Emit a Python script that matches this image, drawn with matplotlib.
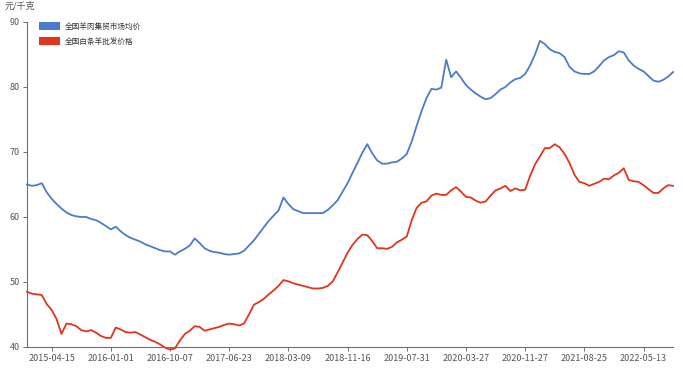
import matplotlib.pyplot as plt
from matplotlib.patches import Patch

plt.rcParams['font.family'] = ['Noto Sans CJK SC', 'DejaVu Sans']

# 周度价格 (元/千克)
mutton_retail = [
    65.0, 64.8, 64.9, 65.2, 63.8, 62.8, 62.0, 61.3, 60.7, 60.3,
    60.1, 60.0, 60.0, 59.7, 59.5, 59.1, 58.6, 58.1, 58.5, 57.8,
    57.2, 56.8, 56.5, 56.2, 55.8, 55.5, 55.2, 54.9, 54.7, 54.7,
    54.2, 54.7, 55.1, 55.6, 56.7, 56.0, 55.2, 54.8, 54.6, 54.5,
    54.3, 54.2, 54.3, 54.4, 54.8, 55.6, 56.4, 57.4, 58.4, 59.4,
    60.2, 61.0, 63.0, 62.0, 61.2, 60.9, 60.6, 60.6, 60.6, 60.6,
    60.6, 61.1, 61.8, 62.6, 63.9, 65.2, 66.8, 68.3, 69.9, 71.2,
    69.8, 68.7, 68.2, 68.2, 68.4, 68.5, 69.0, 69.7, 71.6, 74.0,
    76.3, 78.3, 79.7, 79.6, 79.9, 84.2, 81.5, 82.4, 81.4, 80.3,
    79.6, 79.0, 78.5, 78.1, 78.3, 78.9, 79.6, 80.0, 80.7, 81.2,
    81.4, 82.0, 83.3, 85.0, 87.1, 86.6, 85.8, 85.4, 85.2, 84.6,
    83.1, 82.4, 82.1, 82.0, 82.0, 82.4, 83.2, 84.1, 84.6, 84.9,
    85.5, 85.3, 84.1, 83.3, 82.8, 82.4, 81.7, 81.0, 80.8, 81.1,
    81.6, 82.3,
]
sheep_wholesale = [
    48.5, 48.2, 48.1, 48.0, 46.6, 45.7, 44.3, 42.0, 43.6, 43.5,
    43.2, 42.6, 42.4, 42.6, 42.2, 41.7, 41.4, 41.4, 43.0, 42.7,
    42.3, 42.2, 42.3, 41.9, 41.5, 41.1, 40.8, 40.4, 39.9, 39.6,
    39.8, 41.0, 42.0, 42.5, 43.2, 43.1, 42.5, 42.7, 42.9, 43.1,
    43.4, 43.6, 43.5, 43.3, 43.6, 45.0, 46.5, 46.9, 47.4, 48.1,
    48.7, 49.4, 50.3, 50.1, 49.8, 49.6, 49.4, 49.2, 49.0, 49.0,
    49.1, 49.4, 50.1, 51.5, 53.0, 54.5, 55.7, 56.6, 57.3, 57.2,
    56.3, 55.2, 55.2, 55.1, 55.4, 56.1, 56.5, 57.0, 59.5, 61.4,
    62.2, 62.4, 63.3, 63.6, 63.4, 63.4, 64.1, 64.6, 63.9, 63.1,
    63.0, 62.5, 62.2, 62.4, 63.3, 64.1, 64.4, 64.8, 64.0, 64.4,
    64.1, 64.2, 66.3, 68.1, 69.3, 70.6, 70.6, 71.2, 70.7, 69.7,
    68.3, 66.5, 65.4, 65.2, 64.8, 65.1, 65.4, 65.9, 65.8, 66.4,
    66.8, 67.5, 65.7, 65.5, 65.4, 64.9, 64.3, 63.7, 63.7, 64.4,
    64.9, 64.8,
]
date_labels = ['2015-04-15', '2016-01-01', '2016-10-07', '2017-06-23', '2018-03-09',
               '2018-11-16', '2019-07-31', '2020-03-27', '2020-11-27', '2021-08-25',
               '2022-05-13']
label_index = [5, 17, 29, 41, 53, 65, 77, 89, 101, 113, 125]
series_names = ['全国羊肉集贸市场均价', '全国白条羊批发价格']
colors = ['#4a7cc9', '#e3341c']

fig = plt.figure(figsize=(6.83, 3.74), dpi=100)
ax = fig.add_axes([0.0395, 0.0722, 0.946, 0.869])

x = list(range(len(mutton_retail)))
ax.plot(x, mutton_retail, color=colors[0], lw=1.3, clip_on=False)
ax.plot(x, sheep_wholesale, color=colors[1], lw=1.3, clip_on=False)

ax.set_xlim(0, len(x) - 1)
ax.set_ylim(40, 90)
ax.set_yticks([40, 50, 60, 70, 80, 90])
ax.set_xticks(label_index)
ax.set_xticklabels(date_labels)

for s in ['top', 'right']:
    ax.spines[s].set_visible(False)
for s in ['left', 'bottom']:
    ax.spines[s].set_color('#6e7079')
    ax.spines[s].set_linewidth(0.8)
ax.tick_params(axis='both', colors='#6e7079', labelcolor='#555555',
               labelsize=6.5, length=3, width=0.7, pad=2)

ax.text(-0.035, 1.035, '元/千克', transform=ax.transAxes, fontsize=6.5,
        color='#555555', ha='left', va='bottom')

handles = [Patch(facecolor=c, edgecolor='none') for c in colors]
ax.legend(handles, series_names, loc='upper left', bbox_to_anchor=(0.008, 1.02),
          frameon=False, fontsize=5.5, handlelength=2.8, handleheight=1.2,
          labelspacing=0.8, handletextpad=0.6, labelcolor='#333333')

plt.savefig('out.png', dpi=100)
